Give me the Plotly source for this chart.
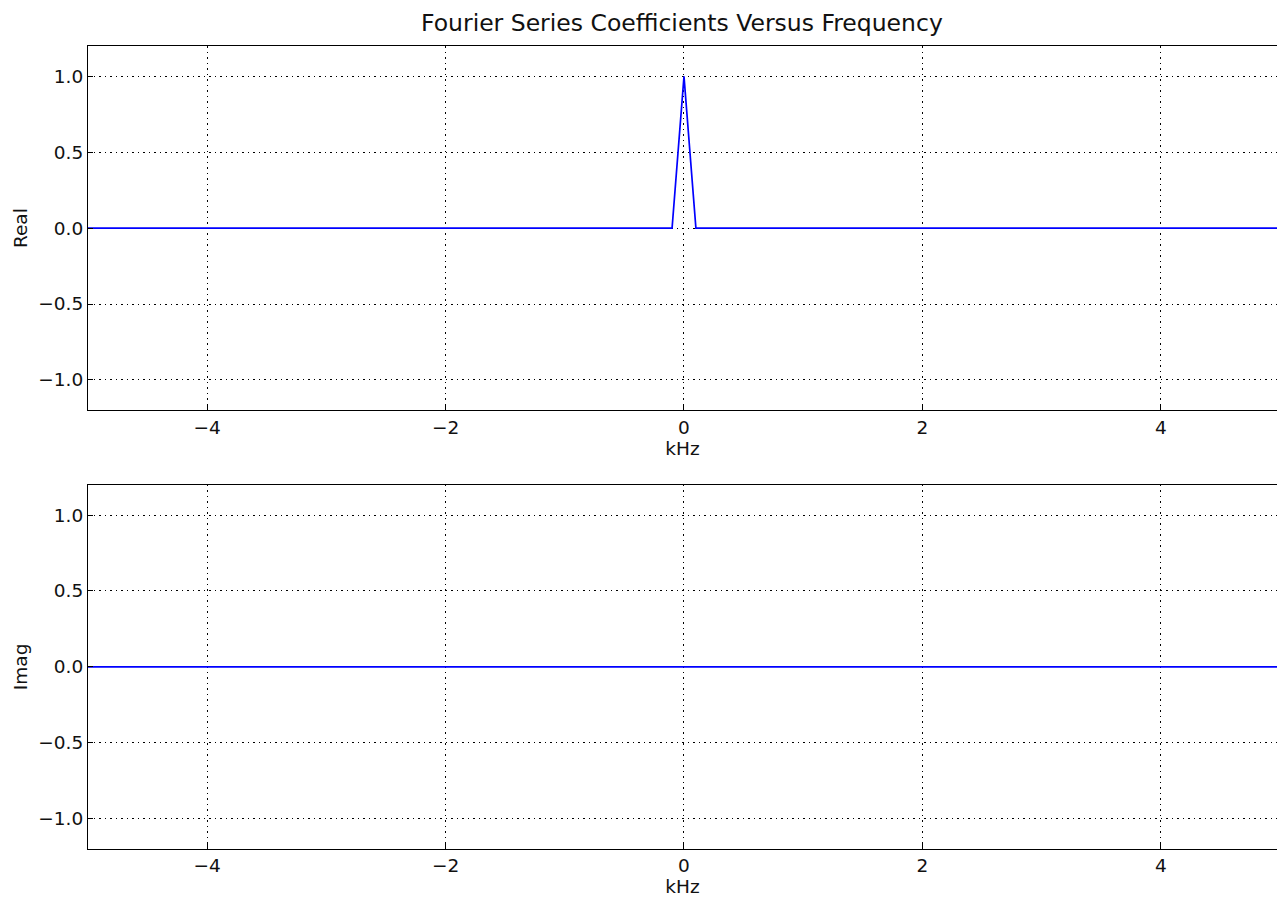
import plotly.graph_objects as go

# Data (frequency in kHz, Fourier coefficients)
freq_khz = [-5.0, -0.1, 0.0, 0.1, 5.0]
real_part = [0.0, 0.0, 1.0, 0.0, 0.0]
imag_part = [0.0, 0.0, 0.0, 0.0, 0.0]

x_ticks = [-4, -2, 0, 2, 4]
x_ticktext = ["\u22124", "\u22122", "0", "2", "4"]
y_ticks = [-1.0, -0.5, 0.0, 0.5, 1.0]
y_ticktext = ["\u22121.0", "\u22120.5", "0.0", "0.5", "1.0"]

fig = go.Figure()
fig.add_trace(go.Scatter(x=freq_khz, y=real_part, mode="lines",
                         line=dict(color="#0000ff", width=1.7),
                         xaxis="x", yaxis="y", showlegend=False))
fig.add_trace(go.Scatter(x=freq_khz, y=imag_part, mode="lines",
                         line=dict(color="#0000ff", width=1.7),
                         xaxis="x2", yaxis="y2", showlegend=False))

TXT = "#111111"
font = dict(family="DejaVu Sans", size=18.5, color=TXT)
tickfont = dict(family="DejaVu Sans", size=18.5, color=TXT)
GRID_DASH = "1.5px,4px"
xcommon = dict(range=[-5, 4.975], tickvals=x_ticks, ticktext=x_ticktext,
               showgrid=True, gridcolor="black", griddash=GRID_DASH, gridwidth=1.4,
               zeroline=False, showline=True, linecolor="black", linewidth=1.2,
               mirror=True, ticks="inside", ticklen=5, tickcolor="black",
               tickfont=tickfont,
               title=dict(text="kHz", font=font, standoff=0))
ycommon = dict(range=[-1.2, 1.2], tickvals=y_ticks, ticktext=y_ticktext,
               showgrid=True, gridcolor="black", griddash=GRID_DASH, gridwidth=1.4,
               zeroline=False, showline=True, linecolor="black", linewidth=1.2,
               mirror=False, ticks="inside", ticklen=5, tickcolor="black",
               tickfont=tickfont)

fig.update_layout(
    width=1277, height=897,
    margin=dict(l=88, r=0, t=46, b=48, pad=0),
    paper_bgcolor="white", plot_bgcolor="white",
    title=dict(text="Fourier Series Coefficients Versus Frequency",
               x=0.534, xanchor="center", y=0.975, yanchor="middle",
               font=dict(family="DejaVu Sans", size=23.5, color=TXT)),
    xaxis=dict(**xcommon, domain=[0, 1], anchor="y"),
    yaxis=dict(**ycommon, domain=[0.5464, 1], anchor="x",
               title=dict(text="Real", font=font, standoff=5)),
    xaxis2=dict(**xcommon, domain=[0, 1], anchor="y2"),
    yaxis2=dict(**ycommon, domain=[0, 0.4536], anchor="x2",
                title=dict(text="Imag", font=font, standoff=5)),
)

fig.write_html("out.html", config={"displayModeBar": False},
               post_script="document.body.style.margin='0';document.body.style.overflow='hidden';")
